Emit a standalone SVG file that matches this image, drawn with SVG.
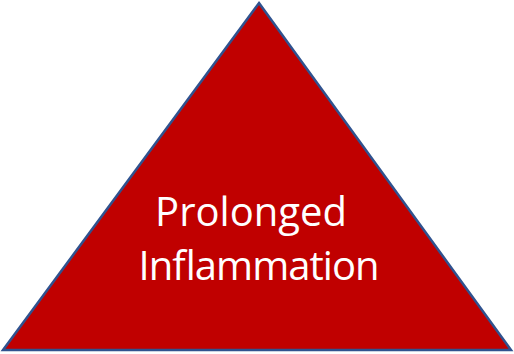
<svg xmlns="http://www.w3.org/2000/svg" width="514" height="354" viewBox="0 0 514 354">
<style>
.tri{fill:#C00000;stroke:#2F528F;stroke-width:2.5;stroke-linejoin:miter}
.lbl{font-family:"Open Sans","Noto Sans",sans-serif;font-size:40px;fill:#FFFFFF;text-anchor:middle}
</style>
<rect width="514" height="354" fill="#FFFFFF"/>
<g id="triangle">
<polygon class="tri" points="259,3 511,350 3,350"/>
<text class="lbl" x="251" y="226">Prolonged</text>
<text class="lbl" x="259" y="280" textLength="241" lengthAdjust="spacing">Inflammation</text>
</g>
<g id="connectors"></g>
</svg>
